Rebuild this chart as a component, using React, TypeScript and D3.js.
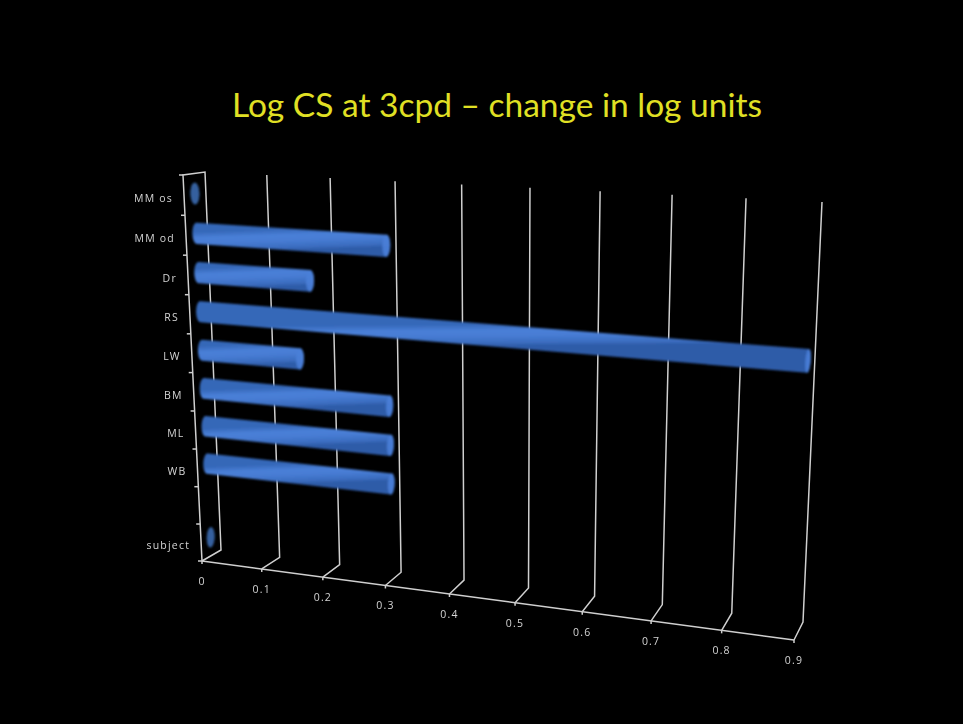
import React from 'react';
import * as d3 from 'd3';

// Chart content
const title = 'Log CS at 3cpd – change in log units';
const categories = ['MM os', 'MM od', 'Dr', 'RS', 'LW', 'BM', 'ML', 'WB', ' ', 'subject'];
const values: (number | null)[] = [0, 0.3, 0.18, 0.9, 0.16, 0.3, 0.3, 0.3, null, 0];
const xTicks = [0, 0.1, 0.2, 0.3, 0.4, 0.5, 0.6, 0.7, 0.8, 0.9];
const xTickLabels = ['0', '0.1', '0.2', '0.3', '0.4', '0.5', '0.6', '0.7', '0.8', '0.9'];

type Pt = [number, number];

// Screen corners of the plot box (bottom-left, bottom-right, top-right, top-left)
const FRONT_FACE: Pt[] = [[202, 561], [794, 640], [805, 212], [183, 175]];
const BACK_FACE: Pt[] = [[221, 550], [803, 622], [822, 202], [205, 172]];

const W = 963;
const H = 724;

// Projective map of the unit square onto a quadrilateral
function squareToQuad(q: Pt[]) {
  const [[x0, y0], [x1, y1], [x2, y2], [x3, y3]] = q;
  const sx = x0 - x1 + x2 - x3;
  const sy = y0 - y1 + y2 - y3;
  const dx1 = x1 - x2, dx2 = x3 - x2, dy1 = y1 - y2, dy2 = y3 - y2;
  const det = dx1 * dy2 - dx2 * dy1;
  const g = (sx * dy2 - dx2 * sy) / det;
  const h = (dx1 * sy - sx * dy1) / det;
  const a = x1 - x0 + g * x1, b = x3 - x0 + h * x3, c = x0;
  const d = y1 - y0 + g * y1, e = y3 - y0 + h * y3, f = y0;
  return (u: number, v: number): Pt => {
    const k = g * u + h * v + 1;
    return [(a * u + b * v + c) / k, (d * u + e * v + f) / k];
  };
}

const front = squareToQuad(FRONT_FACE);
const back = squareToQuad(BACK_FACE);

// u: value axis (0..1), v: category axis (0 bottom..1 top), w: depth (0 front..1 back)
function project(u: number, v: number, w: number): Pt {
  const a = front(u, v);
  const b = back(u, v);
  return [a[0] + (b[0] - a[0]) * w, a[1] + (b[1] - a[1]) * w];
}

const x = d3.scaleLinear().domain([0, 0.9]).range([0, 1]);
const y = d3.scaleBand<string>().domain(categories).range([1, 0]).paddingInner(0).paddingOuter(0);

const R_V = 0.027; // cylinder radius along category axis
const R_W = 0.2; // cylinder radius along depth
const BAR_DEPTH = 0.5;

function ring(u: number, vc: number): Pt[] {
  return d3.range(0, 48).map((i) => {
    const t = (i / 48) * Math.PI * 2;
    return project(u, vc + R_V * Math.cos(t), BAR_DEPTH + R_W * Math.sin(t));
  });
}

const line = d3.line<Pt>();

export default function App() {
  const bw = y.bandwidth();

  const bars = categories
    .map((c, i) => ({ c, v: values[i], i }))
    .filter((d) => d.v !== null) as { c: string; v: number; i: number }[];

  return (
    <div style={{ position: 'fixed', left: 0, top: 0, width: W, height: H, background: '#000' }}>
      <svg width={W} height={H} style={{ display: 'block' }}>
        <defs>
          <filter id="soft" x="-10%" y="-50%" width="120%" height="200%">
            <feGaussianBlur stdDeviation="1" />
          </filter>
          <filter id="softLine">
            <feGaussianBlur stdDeviation="0.4" />
          </filter>
          <filter id="softText">
            <feGaussianBlur stdDeviation="0.35" />
          </filter>
          {bars.map((d) => {
            const vc = (y(d.c) as number) + bw / 2;
            const um = x(d.v) / 2;
            const p1 = project(um, vc + R_V, BAR_DEPTH);
            const p2 = project(um, vc - R_V, BAR_DEPTH);
            return (
              <linearGradient
                key={d.c}
                id={`cyl-${d.i}`}
                gradientUnits="userSpaceOnUse"
                x1={p1[0]}
                y1={p1[1]}
                x2={p2[0]}
                y2={p2[1]}
              >
                <stop offset="0" stopColor="#3567b8" />
                <stop offset="0.3" stopColor="#4a80d8" />
                <stop offset="0.55" stopColor="#477cd3" />
                <stop offset="0.85" stopColor="#3b6dc0" />
                <stop offset="1" stopColor="#2f5ca8" />
              </linearGradient>
            );
          })}
        </defs>

        <text
          x={497}
          y={117}
          textAnchor="middle"
          fontFamily="Lato, 'Open Sans', sans-serif"
          fontSize={33.5}
          fill="#e0e024"
        >
          {title}
        </text>

        {/* walls and gridlines */}
        <g stroke="#cfcfcf" strokeWidth={1.5} fill="none" filter="url(#softLine)">
          <path
            d={
              line([
                project(0, 0, 0),
                project(0, 1, 0),
                project(0, 1, 1),
                project(0, 0, 1),
                project(0, 0, 0),
              ]) as string
            }
          />
          <path d={line([project(0, 0, 0), project(1, 0, 0)]) as string} />
          {xTicks.slice(1).map((t) => (
            <path
              key={t}
              d={line([project(x(t), 1, 1), project(x(t), 0, 1), project(x(t), 0, 0)]) as string}
            />
          ))}
          {d3.range(0, categories.length + 1).map((k) => {
            const p = project(0, k / categories.length, 0);
            return <line key={k} x1={p[0] - 4} y1={p[1]} x2={p[0]} y2={p[1]} />;
          })}
          {xTicks.map((t) => {
            const p = project(x(t), 0, 0);
            return <line key={t} x1={p[0]} y1={p[1]} x2={p[0]} y2={p[1] + 3} />;
          })}
        </g>

        {/* cylinders */}
        <g filter="url(#soft)">
          {bars.map((d) => {
            const vc = (y(d.c) as number) + bw / 2;
            const u1 = x(d.v);
            const start = ring(0, vc);
            const end = ring(u1, vc);
            const hull = d3.polygonHull(start.concat(end)) as Pt[];
            return (
              <g key={d.c}>
                <path d={(line(hull) as string) + 'Z'} fill={d.v > 0 ? `url(#cyl-${d.i})` : '#36609f'} />
                <path d={(line(end) as string) + 'Z'} fill={d.v > 0 ? '#4a80d8' : '#36609f'} opacity={0.9} />
              </g>
            );
          })}
        </g>

        {/* axis labels */}
        <g
          fontFamily="'Open Sans', sans-serif"
          fontSize={10.5}
          letterSpacing={1.2}
          fill="#d4d4d4"
          filter="url(#softText)"
        >
          {categories.map((c) => {
            const p = project(0, (y(c) as number) + bw / 2, 0);
            return (
              <text key={c} x={p[0] - 11} y={p[1] + 4} textAnchor="end" dominantBaseline="middle">
                {c.trim()}
              </text>
            );
          })}
          {xTicks.map((t, i) => {
            const p = project(x(t), 0, 0);
            return (
              <text key={t} x={p[0]} y={p[1] + 21} textAnchor="middle" dominantBaseline="middle">
                {xTickLabels[i]}
              </text>
            );
          })}
        </g>
      </svg>
    </div>
  );
}
